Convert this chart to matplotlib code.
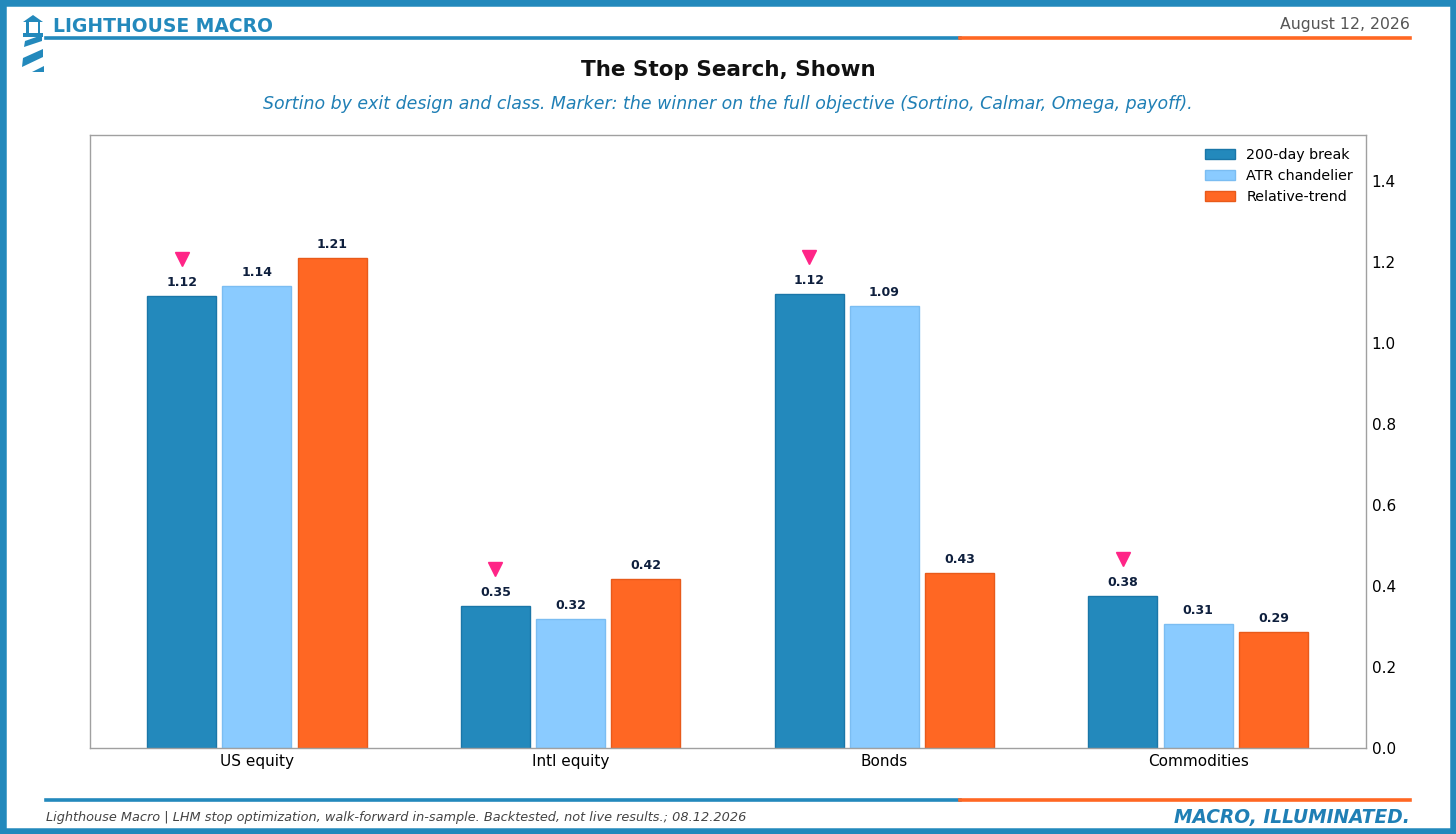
import numpy as np
import matplotlib.pyplot as plt
from matplotlib.patches import Polygon, Rectangle
from matplotlib.lines import Line2D

plt.rcParams['font.family'] = ['DejaVu Sans']

# data
classes = ['US equity', 'Intl equity', 'Bonds', 'Commodities']
series_names = ['200-day break', 'ATR chandelier', 'Relative-trend']
sortino_200d = [1.116, 0.351, 1.121, 0.376]
sortino_atr = [1.141, 0.319, 1.091, 0.306]
sortino_rel = [1.21, 0.416, 0.432, 0.286]
winner = [0, 0, 0, 0]  # index of series that wins on full objective

BLUE = '#2389BC'
LIGHT = '#8ACBFF'
ORANGE = '#FF6723'
PINK = '#FF2587'
NAVY = '#0E1F3D'

W, H = 1456, 834
fig = plt.figure(figsize=(W / 100, H / 100), dpi=100)


def px(x, y):  # pixel coords -> figure fraction
    return (x / W, 1 - y / H)


# frame
fig.patches.append(Rectangle((0, 0), 1, 1, transform=fig.transFigure, fill=False,
                             edgecolor=BLUE, linewidth=9, zorder=10))

# header / footer rules
for yy in (38, 800):
    fig.add_artist(Line2D([px(46, 0)[0], px(960, 0)[0]], [px(0, yy)[1]] * 2, color=BLUE, lw=2.6))
    fig.add_artist(Line2D([px(960, 0)[0], px(1410, 0)[0]], [px(0, yy)[1]] * 2, color=ORANGE, lw=2.6))

# little lighthouse logo
logo = [
    [(23, 22), (33, 15), (43, 22)],
    [(23, 33), (43, 33), (43, 37), (23, 37)],
    [(26, 22), (28.5, 22), (28.5, 33), (26, 33)],
    [(37.5, 22), (40, 22), (40, 33), (37.5, 33)],
    [(25, 41), (42, 35), (42, 41), (24, 47)],
    [(23, 58), (43, 49), (43, 57), (22, 67)],
    [(32, 72), (44, 66), (44, 72)],
]
for poly in logo:
    fig.patches.append(Polygon([px(*p) for p in poly], closed=True, transform=fig.transFigure,
                               facecolor=BLUE, edgecolor='none'))

fig.text(*px(53, 27), 'LIGHTHOUSE MACRO', color=BLUE, fontsize=13.5, fontweight='bold', va='center')
fig.text(*px(1410, 25), 'August 12, 2026', color='#555555', fontsize=11.3, ha='right', va='center')
fig.text(*px(728, 70), 'The Stop Search, Shown', color='#111111', fontsize=15.5, fontweight='bold',
         ha='center', va='center')
fig.text(*px(728, 104), 'Sortino by exit design and class. Marker: the winner on the full objective '
         '(Sortino, Calmar, Omega, payoff).', color='#1F7FB5', fontsize=12.5, style='italic',
         ha='center', va='center')
fig.text(*px(46, 818), 'Lighthouse Macro | LHM stop optimization, walk-forward in-sample. '
         'Backtested, not live results.; 08.12.2026', color='#444444', fontsize=9.3,
         style='italic', va='center')
fig.text(*px(1410, 818), 'MACRO, ILLUMINATED.', color='#1F7FB5', fontsize=13.4, fontweight='bold',
         style='italic', ha='right', va='center')

ax = fig.add_axes([90 / W, 1 - 748 / H, (1366 - 90) / W, (748 - 135) / H])

x = np.arange(len(classes))
width = 0.22
offsets = [-0.24, 0, 0.24]
all_vals = [sortino_200d, sortino_atr, sortino_rel]
colors = [BLUE, LIGHT, ORANGE]
edges = ['#1A76A8', '#7BBDF2', '#E85A1A']

for vals, off, c, ec, name in zip(all_vals, offsets, colors, edges, series_names):
    bars = ax.bar(x + off, vals, width, color=c, edgecolor=ec, linewidth=1, label=name)
    for b, v in zip(bars, vals):
        ax.annotate(f'{v:.2f}', (b.get_x() + b.get_width() / 2, v), xytext=(0, 5),
                    textcoords='offset points', ha='center', va='bottom',
                    fontsize=9, fontweight='bold', color=NAVY)

for i, w in enumerate(winner):
    ax.plot(x[i] + offsets[w], all_vals[w][i] + 0.09, marker='v', color=PINK,
            markersize=10, linestyle='none')

ax.set_xlim(-0.532, 3.535)
ax.set_ylim(0, max(sortino_rel + sortino_atr + sortino_200d) * 1.25)
ax.set_xticks(x)
ax.set_xticklabels(classes, fontsize=11)
ax.set_yticks(np.arange(0, 1.41, 0.2))
ax.yaxis.tick_right()
ax.tick_params(axis='both', length=0, labelsize=11)
ax.tick_params(axis='y', pad=4)
ax.tick_params(axis='x', pad=4)
for s in ax.spines.values():
    s.set_color('#A0A0A0')
    s.set_linewidth(1)

ax.legend(loc='upper right', frameon=False, fontsize=10.3, handlelength=2.1, borderaxespad=0.5)

fig.savefig('out.png', dpi=100)
